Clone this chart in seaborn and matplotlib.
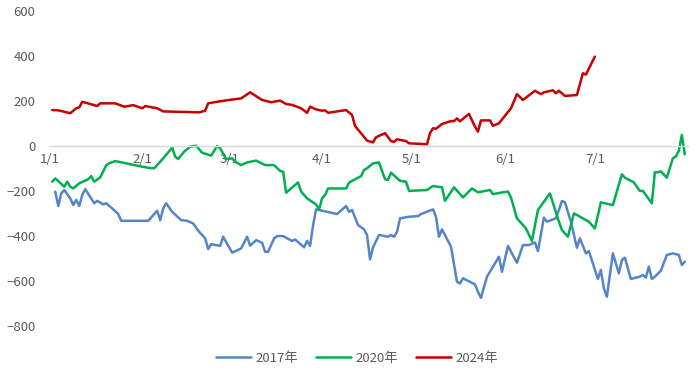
import pandas as pd
import matplotlib
matplotlib.use("Agg")
import matplotlib.pyplot as plt
from matplotlib.lines import Line2D
import seaborn as sns

# 2017年
dates_2017 = ["01-03", "01-04", "01-05", "01-06", "01-08", "01-09", "01-10", "01-11", "01-12", "01-13",
              "01-16", "01-17", "01-19", "01-20", "01-22", "01-24", "01-25", "02-03", "02-06", "02-07",
              "02-08", "02-09", "02-11", "02-14", "02-16", "02-18", "02-20", "02-22", "02-23", "02-24",
              "02-27", "02-28", "03-02", "03-05", "03-07", "03-08", "03-10", "03-12", "03-13", "03-14",
              "03-16", "03-17", "03-19", "03-22", "03-23", "03-26", "03-27", "03-28", "03-29", "03-30",
              "04-06", "04-09", "04-10", "04-11", "04-13", "04-15", "04-16", "04-17", "04-18", "04-20",
              "04-23", "04-24", "04-25", "04-26", "04-27", "04-30", "05-03", "05-04", "05-08", "05-09",
              "05-10", "05-11", "05-14", "05-16", "05-17", "05-18", "05-22", "05-23", "05-24", "05-26",
              "05-30", "05-31", "06-02", "06-05", "06-07", "06-09", "06-11", "06-12", "06-14", "06-15",
              "06-18", "06-19", "06-20", "06-21", "06-23", "06-25", "06-26", "06-28", "06-29", "07-02",
              "07-03", "07-04", "07-05", "07-07", "07-09", "07-10", "07-11", "07-13", "07-16", "07-17",
              "07-18", "07-19", "07-20", "07-21", "07-23", "07-25", "07-27", "07-29", "07-30", "07-31"]
values_2017 = [-203, -267, -211, -196, -233, -263, -240, -267, -218, -192,
               -255, -244, -260, -255, -278, -303, -333, -333, -288, -330,
               -278, -255, -293, -330, -333, -345, -382, -411, -459, -437,
               -445, -404, -475, -456, -404, -444, -419, -431, -471, -471,
               -411, -401, -401, -423, -416, -451, -422, -445, -352, -282,
               -303, -267, -293, -285, -352, -371, -396, -505, -451, -396,
               -404, -396, -404, -382, -322, -315, -312, -303, -282, -315,
               -404, -371, -448, -604, -612, -589, -616, -649, -676, -582,
               -493, -560, -445, -520, -441, -441, -429, -468, -319, -337,
               -322, -285, -245, -250, -337, -453, -411, -478, -468, -592,
               -552, -634, -671, -478, -567, -508, -497, -592, -582, -574,
               -586, -537, -592, -582, -555, -485, -478, -485, -530, -515]

# 2020年
dates_2020 = ["01-02", "01-03", "01-06", "01-07", "01-08", "01-09", "01-11", "01-14", "01-15", "01-16",
              "01-18", "01-20", "01-21", "01-23", "02-01", "02-04", "02-05", "02-08", "02-11", "02-12",
              "02-13", "02-15", "02-17", "02-19", "02-21", "02-24", "02-26", "02-27", "02-29", "03-02",
              "03-03", "03-05", "03-07", "03-10", "03-13", "03-16", "03-18", "03-19", "03-20", "03-24",
              "03-25", "03-27", "03-30", "03-31", "04-01", "04-02", "04-03", "04-09", "04-10", "04-12",
              "04-14", "04-15", "04-16", "04-18", "04-20", "04-22", "04-23", "04-24", "04-27", "04-29",
              "04-30", "05-06", "05-08", "05-11", "05-12", "05-15", "05-18", "05-21", "05-23", "05-27",
              "05-28", "05-31", "06-02", "06-03", "06-05", "06-08", "06-10", "06-12", "06-14", "06-16",
              "06-19", "06-20", "06-22", "06-24", "06-29", "07-01", "07-03", "07-07", "07-10", "07-11",
              "07-14", "07-16", "07-17", "07-20", "07-21", "07-22", "07-23", "07-25", "07-27", "07-28",
              "07-29", "07-30", "07-31"]
values_2020 = [-159, -144, -181, -159, -181, -189, -166, -148, -134, -159,
               -140, -85, -77, -67, -92, -99, -99, -55, -7, -47,
               -58, -25, -3, 1, -30, -43, 0, -10, -58, -55,
               -70, -85, -73, -65, -85, -85, -111, -114, -208, -162,
               -203, -233, -260, -282, -233, -218, -189, -189, -163, -148,
               -134, -107, -99, -77, -73, -148, -151, -119, -155, -159,
               -200, -196, -178, -184, -244, -184, -229, -189, -206, -196,
               -214, -207, -203, -229, -322, -367, -423, -285, -248, -211,
               -337, -374, -404, -300, -337, -367, -251, -263, -126, -141,
               -162, -200, -200, -255, -117, -117, -113, -141, -55, -47,
               -22, 49, -37]

# 2024年
dates_2024 = ["01-02", "01-04", "01-08", "01-10", "01-11", "01-12", "01-17", "01-18", "01-23", "01-26",
              "01-29", "02-01", "02-02", "02-06", "02-08", "02-20", "02-22", "02-23", "02-26", "03-01",
              "03-05", "03-08", "03-12", "03-15", "03-18", "03-20", "03-22", "03-25", "03-27", "03-28",
              "03-30", "04-01", "04-02", "04-03", "04-09", "04-11", "04-12", "04-16", "04-18", "04-19",
              "04-22", "04-24", "04-25", "04-26", "04-29", "04-30", "05-06", "05-07", "05-08", "05-09",
              "05-11", "05-14", "05-15", "05-16", "05-17", "05-20", "05-22", "05-23", "05-24", "05-27",
              "05-28", "05-30", "06-03", "06-05", "06-07", "06-11", "06-13", "06-14", "06-17", "06-18",
              "06-19", "06-21", "06-25", "06-27", "06-28", "07-01"]
values_2024 = [160, 159, 146, 168, 172, 197, 178, 190, 190, 175,
               182, 168, 178, 168, 154, 150, 157, 190, 197, 205,
               212, 239, 205, 195, 202, 187, 183, 168, 148, 175,
               163, 157, 159, 148, 160, 138, 89, 24, 16, 39,
               57, 22, 18, 30, 22, 12, 8, 57, 79, 77,
               98, 111, 111, 123, 110, 143, 86, 64, 114, 114,
               90, 101, 168, 231, 205, 246, 231, 239, 248, 235,
               246, 223, 227, 324, 318, 398]

series = ["2017年", "2020年", "2024年"]
colors = ["#5585C8", "#00B050", "#C80000"]

frames = []
for name, d, v in zip(series, [dates_2017, dates_2020, dates_2024],
                      [values_2017, values_2020, values_2024]):
    frames.append(pd.DataFrame({
        "date": pd.to_datetime(["2024-" + s for s in d]),
        "value": v,
        "year": name,
    }))
df = pd.concat(frames, ignore_index=True)

sns.set_style("white")
plt.rcParams["font.family"] = ["Noto Sans CJK SC", "DejaVu Sans"]

fig = plt.figure(figsize=(6.99, 3.75), dpi=100)
ax = fig.add_axes([0.0705, 0.1315, 0.9135, 0.8385])

sns.lineplot(data=df, x="date", y="value", hue="year", palette=colors,
             hue_order=series, sort=False, linewidth=1.8, ax=ax, legend=False)

ax.set_ylim(-800, 600)
ax.set_yticks(range(-800, 601, 200))
ax.set_xlim(pd.Timestamp("2024-01-01"), pd.Timestamp("2024-08-01"))
month_ticks = pd.date_range("2024-01-01", "2024-08-01", freq="MS")
ax.set_xticks(month_ticks)
ax.set_xticklabels([f"{t.month}/1" for t in month_ticks[:-1]] + [""])

for side in ["top", "right", "left"]:
    ax.spines[side].set_visible(False)
ax.spines["bottom"].set_position(("data", 0))
ax.spines["bottom"].set_color("#D9D9D9")
ax.spines["bottom"].set_linewidth(1.0)

ax.tick_params(axis="x", direction="out", length=4, width=0.8, color="#D9D9D9",
               labelsize=9.5, labelcolor="#595959", pad=1)
ax.tick_params(axis="y", length=0, labelsize=9.5, labelcolor="#595959", pad=10)
ax.set_xlabel("")
ax.set_ylabel("")

handles = [Line2D([0], [0], color=c, lw=1.8) for c in colors]
fig.legend(handles, series, loc="center", bbox_to_anchor=(0.511, 0.045), ncol=3,
           frameon=False, fontsize=9.5, handlelength=2.6, handletextpad=0.35,
           columnspacing=1.4, labelcolor="#595959")

fig.savefig("out.png", dpi=100)
